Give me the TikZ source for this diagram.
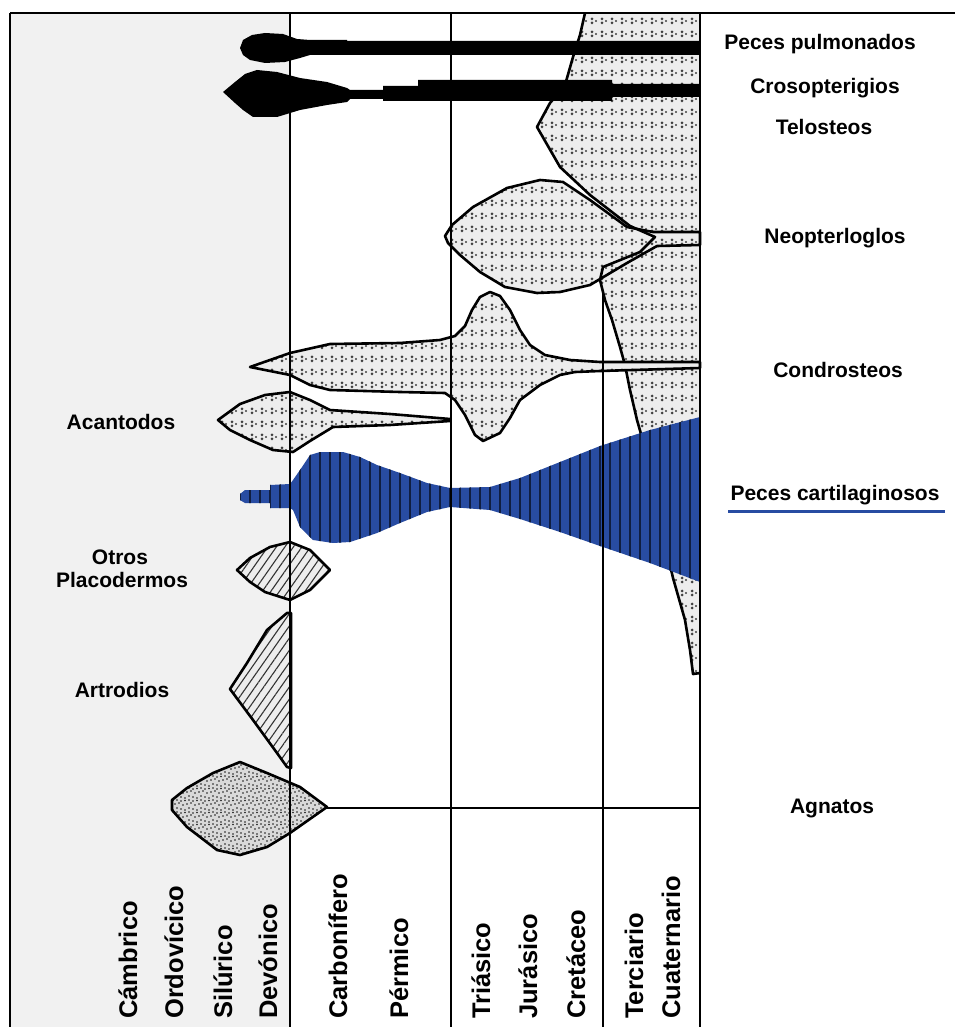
\documentclass[tikz,border=0pt]{standalone}
\usepackage{fontspec}
\setmainfont{Liberation Sans}
\usetikzlibrary{patterns,patterns.meta}
\definecolor{cartblue}{RGB}{40,76,162}
\definecolor{panelgray}{RGB}{241,241,241}
\pgfdeclarepatternformonly{fishmarks}{\pgfqpoint{-1pt}{-1pt}}{\pgfqpoint{11pt}{14pt}}{\pgfqpoint{10pt}{13pt}}{%
  \pgfpathcircle{\pgfqpoint{2pt}{3pt}}{1.5pt}%
  \pgfpathcircle{\pgfqpoint{2pt}{7pt}}{1.5pt}%
  \pgfpathcircle{\pgfqpoint{6pt}{5pt}}{1.2pt}%
  \pgfusepath{fill}}
\pgfdeclarepatternformonly{stipple}{\pgfqpoint{-1pt}{-1pt}}{\pgfqpoint{13pt}{13pt}}{\pgfqpoint{12pt}{12pt}}{%
  \pgfpathcircle{\pgfqpoint{1pt}{2pt}}{0.9pt}%
  \pgfpathcircle{\pgfqpoint{5pt}{1pt}}{0.8pt}%
  \pgfpathcircle{\pgfqpoint{9pt}{3pt}}{0.9pt}%
  \pgfpathcircle{\pgfqpoint{3pt}{6pt}}{0.8pt}%
  \pgfpathcircle{\pgfqpoint{7pt}{7pt}}{0.9pt}%
  \pgfpathcircle{\pgfqpoint{11pt}{8pt}}{0.8pt}%
  \pgfpathcircle{\pgfqpoint{1pt}{10pt}}{0.9pt}%
  \pgfpathcircle{\pgfqpoint{5pt}{10.5pt}}{0.8pt}%
  \pgfpathcircle{\pgfqpoint{9pt}{11pt}}{0.9pt}%
  \pgfusepath{fill}}
\tikzset{
  outl/.style={draw=black, line width=2.6pt, line join=round},
  dotfill/.style={preaction={fill=gray!14}, pattern=fishmarks, pattern color=black!75},
  hatchfill/.style={preaction={fill=gray!14}, pattern={Lines[angle=55,distance=7pt,line width=1.1pt]}, pattern color=black!80},
  stipfill/.style={preaction={fill=gray!30}, pattern=stipple, pattern color=black!90},
  bluefill/.style={preaction={fill=cartblue}, pattern={Lines[angle=90,distance=10pt,line width=1.4pt]}, pattern color=black!60!cartblue},
  gridline/.style={draw=black, line width=2pt},
  lab/.style={font=\fontsize{21}{24}\selectfont\bfseries, inner sep=0pt},
  era/.style={font=\fontsize{25.5}{28}\selectfont\bfseries, inner sep=0pt, rotate=90, anchor=base west},
}
\begin{document}
\begin{tikzpicture}[x=1pt,y=-1pt]
\useasboundingbox (0,0) rectangle (955,1027);
\fill[white] (0,0) rectangle (955,1027);
% left panel
\fill[panelgray] (10,13) rectangle (290,1027);

% Telosteos (fill)
\path[dotfill] (585,13) -- (700,13) -- (700,673) -- (693,674) -- (690,650) -- (685,620) -- (673,578)
  -- (655,500) -- (645,448) -- (637,420) -- (630,390) -- (625,365) -- (620,347) -- (612,320) -- (605,300)
  -- (600,280) -- (603,267) -- (640,252) -- (655,237) -- (630,226) -- (590,195) -- (560,167) -- (537,127)
  -- (550,103) -- (565,85) -- (573,57) -- (580,35) -- cycle;

% Neopterigios
\path[outl,dotfill] (445,236) -- (452,225) -- (473,207) -- (507,188) -- (540,180) -- (563,182) -- (590,200)
  -- (627,227) -- (653,232) -- (700,232) -- (700,245) -- (657,246) -- (627,263) -- (590,285) -- (560,292)
  -- (537,293) -- (505,287) -- (480,272) -- (460,255) -- (448,243) -- cycle;

% Telosteos outline
\draw[outl] (585,13) -- (580,35) -- (573,57) -- (565,85) -- (550,103) -- (537,127) -- (560,167) -- (590,195)
  -- (630,226) -- (655,237) -- (640,252) -- (603,267) -- (600,280) -- (605,300) -- (612,320) -- (620,347)
  -- (625,365) -- (630,390) -- (637,420) -- (645,448) -- (655,500) -- (673,578) -- (685,620) -- (690,650)
  -- (693,674) -- (700,673);

% Condrosteos
\path[outl,dotfill] (250,367) -- (270,360) -- (290,353) -- (330,344) -- (400,343) -- (440,340) -- (455,336)
  -- (465,326) -- (472,310) -- (480,297) -- (490,292) -- (500,296) -- (510,310) -- (520,330) -- (530,345)
  -- (545,355) -- (570,360) -- (600,362) -- (700,362) -- (700,368) -- (600,371) -- (575,372) -- (560,375)
  -- (540,385) -- (520,400) -- (510,418) -- (500,433) -- (483,441) -- (475,435) -- (465,415) -- (455,400)
  -- (445,393) -- (400,392) -- (330,390) -- (310,385) -- (290,375) -- (270,371) -- cycle;

% Acantodos
\path[outl,dotfill] (218,420) -- (240,404) -- (265,395) -- (290,392) -- (310,400) -- (330,410) -- (390,414)
  -- (450,419) -- (450,421) -- (390,425) -- (333,427) -- (310,441) -- (293,452) -- (273,450) -- (250,440)
  -- (230,430) -- cycle;

% Peces cartilaginosos
\path[bluefill] (240,494) -- (245,490) -- (270,490) -- (270,485) -- (290,484) -- (293,480) -- (300,470)
  -- (310,455) -- (320,452) -- (343,452) -- (360,457) -- (377,465) -- (400,473) -- (427,483) -- (450,488)
  -- (490,487) -- (520,478) -- (560,462) -- (600,446) -- (650,430) -- (700,417) -- (700,582) -- (650,563)
  -- (600,546) -- (560,532) -- (520,519) -- (490,510) -- (450,507) -- (427,512) -- (400,523) -- (377,533)
  -- (350,542) -- (333,543) -- (313,540) -- (300,527) -- (293,510) -- (290,508) -- (270,508) -- (270,503)
  -- (245,503) -- (240,500) -- cycle;

% Otros placodermos
\path[outl,hatchfill] (237,570) -- (250,558) -- (270,547) -- (290,542) -- (310,550) -- (330,570) -- (310,590)
  -- (290,600) -- (265,592) -- (250,582) -- cycle;

% Artrodios
\path[outl,hatchfill] (230,689) -- (247,663) -- (267,630) -- (287,613) -- (291,613) -- (291,768) -- (287,767)
  -- (277,753) -- (253,720) -- cycle;

% Agnatos
\path[outl,stipfill] (172,800) -- (187,788) -- (213,773) -- (240,762) -- (267,773) -- (300,787) -- (327,807)
  -- (290,833) -- (267,847) -- (240,855) -- (217,850) -- (187,827) -- (172,810) -- cycle;

% Peces pulmonados
\fill[black] (240,48) -- (243,40) -- (252,35) -- (265,33) -- (283,34) -- (297,39) -- (310,40) -- (347,40)
  -- (347,41) -- (700,41) -- (700,55) -- (310,55) -- (300,58) -- (285,62) -- (265,63) -- (250,60) -- (243,55) -- cycle;

% Crosopterigios
\fill[black] (223,92) -- (235,82) -- (245,74) -- (257,70) -- (277,72) -- (300,78) -- (327,82) -- (347,88)
  -- (350,90) -- (383,90) -- (383,86) -- (418,86) -- (418,80) -- (612,80) -- (612,84) -- (700,84)
  -- (700,97) -- (612,97) -- (612,101) -- (383,101) -- (383,99) -- (350,99) -- (347,102) -- (327,105)
  -- (300,110) -- (277,117) -- (253,117) -- (243,110) -- (235,103) -- cycle;

% grid
\draw[gridline] (10,13) -- (955,13);
\draw[gridline] (10,13) -- (10,1027);
\draw[gridline] (290,13) -- (290,1027);
\draw[gridline] (451,13) -- (451,1027);
\draw[gridline] (603,290) -- (603,1027);
\draw[gridline] (700,13) -- (700,1027);
\draw[gridline] (327,808) -- (700,808);

% right labels
\node[lab] (pulm) at (820,44) {Peces pulmonados};
\node[lab] (cros) at (825,88) {Crosopterigios};
\node[lab] (tele) at (824,127) {Telosteos};
\node[lab] (neop) at (835,238) {Neopterloglos};
\node[lab] (cond) at (838,370) {Condrosteos};
\node[lab] (cart) at (835,495) {Peces cartilaginosos};
\draw[cartblue, line width=3pt] (728,511) -- (945,511);
\node[lab] (agna) at (832,808) {Agnatos};

% left labels
\node[lab] (acan) at (121,422) {Acantodos};
\node[lab] (otro) at (120,557) {Otros};
\node[lab] (plac) at (122,580) {Placodermos};
\node[lab] (artr) at (122,690) {Artrodios};

% eras
\node[era] (camb) at (137,1019) {Cámbrico};
\node[era] (ordo) at (183,1019) {Ordovícico};
\node[era] (silu) at (232,1019) {Silúrico};
\node[era] (devo) at (277,1019) {Devónico};
\node[era] (carb) at (347,1019) {Carbonífero};
\node[era] (perm) at (408,1019) {Pérmico};
\node[era] (tria) at (490,1019) {Triásico};
\node[era] (jura) at (537,1019) {Jurásico};
\node[era] (cret) at (585,1019) {Cretáceo};
\node[era] (terc) at (643,1019) {Terciario};
\node[era] (cuat) at (680,1019) {Cuaternario};
\end{tikzpicture}
\end{document}
